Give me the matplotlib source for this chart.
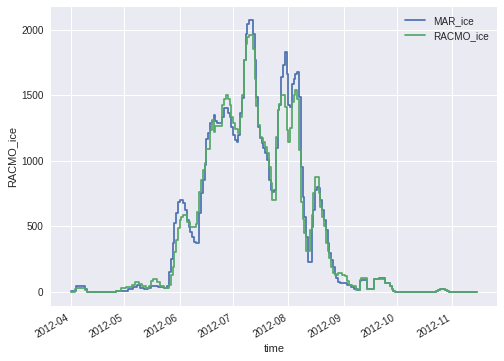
import matplotlib
matplotlib.use("Agg")
import matplotlib.pyplot as plt
import matplotlib.dates as mdates
import pandas as pd

start_date = "2012-04-01"

mar_ice = [
    5, 5, 5, 5, 48, 48, 48, 48, 48, 25,
    0, 0, 0, 0, 0, 0, 0, 0, 0, 0,
    0, 0, 0, 0, 0, 0, 5, 5, 5, 5,
    5, 5, 5, 25, 25, 25, 42, 42, 55, 55,
    35, 35, 23, 23, 30, 30, 43, 43, 48, 48,
    38, 38, 38, 35, 35, 43, 150, 250, 372, 524,
    600, 689, 702, 702, 676, 626, 550, 499, 461, 423,
    385, 375, 375, 600, 753, 854, 968, 1165, 1209, 1285,
    1300, 1348, 1300, 1290, 1290, 1290, 1336, 1400, 1400, 1361,
    1336, 1260, 1196, 1158, 1145, 1196, 1361, 1480, 1767, 1970,
    2046, 2071, 2071, 1970, 1767, 1487, 1260, 1171, 1133, 1095,
    1057, 1006, 854, 778, 760, 778, 1100, 1386, 1424, 1640,
    1728, 1830, 1665, 1424, 1411, 1589, 1627, 1665, 1678, 1487,
    955, 727, 575, 423, 233, 233, 499, 626, 778, 803,
    790, 702, 626, 550, 474, 372, 297, 246, 195, 140,
    106, 75, 70, 70, 70, 70, 55, 55, 38, 38,
    22, 22, 17, 81, 94, 94, 94, 22, 22, 22,
    22, 100, 100, 100, 111, 111, 111, 68, 68, 68,
    45, 23, 8, 2, 2, 2, 2, 2, 2, 2,
    2, 2, 2, 2, 2, 2, 2, 2, 2, 2,
    2, 2, 2, 2, 2, 2, 8, 15, 22, 25,
    22, 15, 8, 2, 2, 2, 2, 2, 2, 2,
    2, 2, 2, 2, 2, 2, 2, 2, 2,
]

racmo_ice = [
    3, 3, 3, 20, 30, 30, 30, 30, 30, 15,
    0, 0, 0, 0, 0, 0, 0, 0, 0, 0,
    0, 0, 0, 0, 0, 0, 5, 5, 5, 30,
    30, 30, 40, 40, 40, 51, 51, 75, 75, 63,
    63, 43, 43, 30, 30, 45, 81, 99, 99, 76,
    76, 43, 43, 30, 30, 30, 55, 131, 195, 309,
    398, 487, 550, 575, 588, 588, 537, 537, 499, 499,
    499, 520, 613, 760, 854, 930, 981, 1090, 1090, 1234,
    1310, 1221, 1265, 1265, 1265, 1265, 1424, 1475, 1500, 1475,
    1424, 1336, 1285, 1240, 1240, 1209, 1336, 1500, 1767, 1894,
    1944, 1957, 1957, 1850, 1620, 1420, 1272, 1184, 1171, 1145,
    1107, 1057, 955, 829, 702, 702, 1183, 1386, 1437, 1500,
    1500, 1411, 1234, 1145, 1247, 1449, 1500, 1538, 1475, 1082,
    690, 560, 449, 315, 315, 474, 588, 753, 879, 879,
    753, 651, 575, 500, 372, 310, 258, 195, 144, 132,
    132, 144, 144, 132, 132, 119, 81, 55, 55, 43,
    43, 17, 17, 94, 106, 106, 106, 22, 22, 22,
    22, 100, 100, 100, 100, 100, 100, 68, 68, 68,
    43, 23, 8, 2, 2, 2, 2, 2, 2, 2,
    2, 2, 2, 2, 2, 2, 2, 2, 2, 2,
    2, 2, 2, 2, 2, 2, 8, 15, 22, 25,
    22, 15, 8, 2, 2, 2, 2, 2, 2, 2,
    2, 2, 2, 2, 2, 2, 2, 2, 2,
]

time = pd.date_range(start_date, periods=len(mar_ice), freq="D")

plt.style.use("seaborn-v0_8")
plt.rcParams["font.family"] = ["Liberation Sans", "DejaVu Sans"]

fig = plt.figure(figsize=(504 / 72, 361 / 72), dpi=72)
ax = fig.add_axes([0.1006, 0.1532, 0.8865, 0.8282])

ax.step(time, mar_ice, where="pre", label="MAR_ice", color="#4C72B0", lw=1.75)
ax.step(time, racmo_ice, where="pre", label="RACMO_ice", color="#55A868", lw=1.75)

ax.xaxis.set_major_locator(mdates.MonthLocator())
ax.xaxis.set_major_formatter(mdates.DateFormatter("%Y-%m"))
ax.set_yticks([0, 500, 1000, 1500, 2000])
for lab in ax.get_xticklabels():
    lab.set_rotation(30)
    lab.set_ha("right")

ax.set_xlabel("time", fontsize=11)
ax.set_ylabel("RACMO_ice", fontsize=11)
ax.tick_params(labelsize=10, colors="0.15")
ax.legend(loc="upper right", fontsize=10, frameon=False)

fig.savefig("out.png", dpi=72)
